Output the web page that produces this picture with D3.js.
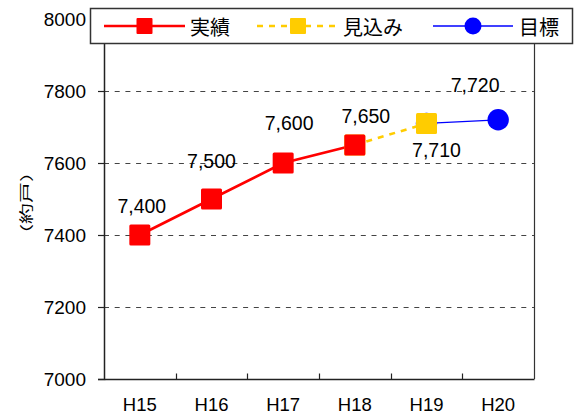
<!DOCTYPE html>
<html>
<head>
<meta charset="utf-8">
<script src="https://cdn.jsdelivr.net/npm/d3@7"></script>
<style>
  html, body { margin: 0; padding: 0; background: #fff; }
  svg { display: block; font-family: "Liberation Sans", Arial, "Noto Sans CJK JP", sans-serif; }
</style>
</head>
<body>
<div id="chart"></div>
<script>
// data
const categories = ["H15", "H16", "H17", "H18", "H19", "H20"];
const actual   = [7400, 7500, 7600, 7650, null, null];   // 実績
const forecast = [null, null, null, 7650, 7710, null];   // 見込み
const target   = [null, null, null, null, 7710, 7720];   // 目標
const pointLabels = [7400, 7500, 7600, 7650, 7710, 7720];
const yTicks = [7000, 7200, 7400, 7600, 7800, 8000];
const seriesNames = ["実績", "見込み", "目標"];

const W = 579, H = 414;
const plot = {left: 104, right: 534, top: 19, bottom: 379};

// label nudges (dx, dy from the marker centre)
const labelNudge = [[2, -22], [0, -31], [6, -33.5], [11, -22.5], [10, 34], [-23, -28]];

const svg = d3.select("#chart").append("svg")
    .attr("width", W)
    .attr("height", H);

const x = d3.scaleBand()
    .domain(categories)
    .range([plot.left, plot.right])
    .padding(0);
const cx = c => x(c) + x.bandwidth() / 2;

const y = d3.scaleLinear()
    .domain([7000, 8000])
    .range([plot.bottom, plot.top]);

// gridlines
svg.append("g")
    .selectAll("line")
    .data(yTicks.filter(v => v > 7000))
    .join("line")
    .attr("x1", plot.left).attr("x2", plot.right)
    .attr("y1", d => Math.round(y(d)) + 0.5).attr("y2", d => Math.round(y(d)) + 0.5)
    .attr("stroke", "#444")
    .attr("stroke-width", 1)
    .attr("stroke-dasharray", "5,5.7");

// plot frame (top and right side)
svg.append("line")
    .attr("x1", plot.right + 0.5).attr("x2", plot.right + 0.5)
    .attr("y1", plot.top).attr("y2", plot.bottom)
    .attr("stroke", "#333").attr("stroke-width", 1.2);
svg.append("line")
    .attr("x1", plot.left).attr("x2", plot.right)
    .attr("y1", plot.top + 0.5).attr("y2", plot.top + 0.5)
    .attr("stroke", "#333").attr("stroke-width", 1.2);

// y axis
const yAxis = svg.append("g")
    .attr("transform", `translate(${plot.left},0)`)
    .call(d3.axisLeft(y).tickValues(yTicks).tickSize(6).tickPadding(12).tickFormat(d3.format("d")));
yAxis.select(".domain").attr("stroke", "#222").attr("stroke-width", 1.5);
yAxis.selectAll(".tick line").attr("stroke", "#222").attr("stroke-width", 1.2);
yAxis.selectAll("text")
    .attr("font-size", 19)
    .attr("font-family", "Liberation Sans, Arial, sans-serif")
    .attr("fill", "#000");

// x axis: inner ticks at category boundaries
const xAxis = svg.append("g")
    .attr("transform", `translate(0,${plot.bottom})`)
    .call(d3.axisBottom(x).tickSize(0).tickPadding(19));
xAxis.select(".domain").attr("stroke", "#222").attr("stroke-width", 1.5);
xAxis.selectAll("text")
    .attr("font-size", 18.5)
    .attr("font-family", "Liberation Sans, Arial, sans-serif")
    .attr("fill", "#000");
svg.append("g")
    .selectAll("line")
    .data(categories.slice(1))
    .join("line")
    .attr("x1", d => Math.round(x(d)) + 0.5).attr("x2", d => Math.round(x(d)) + 0.5)
    .attr("y1", plot.bottom).attr("y2", plot.bottom - 5.5)
    .attr("stroke", "#222").attr("stroke-width", 1.2);

// y axis title (rotated, slightly condensed like the original)
svg.append("text")
    .attr("transform", "translate(25,203) rotate(-90) scale(1.1,0.72)")
    .attr("text-anchor", "middle")
    .attr("dominant-baseline", "central")
    .attr("font-family", "Noto Sans CJK JP, sans-serif")
    .attr("font-size", 19)
    .text("（約戸）");

// lines
const line = d3.line()
    .defined(d => d.v != null)
    .x(d => cx(d.c))
    .y(d => y(d.v));
const pts = arr => categories.map((c, i) => ({c: c, v: arr[i]}));

svg.append("path")
    .datum(pts(target))
    .attr("d", line)
    .attr("fill", "none")
    .attr("stroke", "#0000ff")
    .attr("stroke-width", 1.3);
svg.append("path")
    .datum(pts(forecast))
    .attr("d", line)
    .attr("fill", "none")
    .attr("stroke", "#ffcc00")
    .attr("stroke-width", 2.6)
    .attr("stroke-dasharray", "6,6");
svg.append("path")
    .datum(pts(actual))
    .attr("d", line)
    .attr("fill", "none")
    .attr("stroke", "#ff0000")
    .attr("stroke-width", 2.7);

// markers
const S = 21;
svg.append("g")
    .selectAll("circle")
    .data(pts(target).filter(d => d.v != null))
    .join("circle")
    .attr("cx", d => cx(d.c)).attr("cy", d => y(d.v))
    .attr("r", 10.7)
    .attr("fill", "#0000ff");
svg.append("g")
    .selectAll("rect")
    .data(pts(forecast).filter(d => d.v != null))
    .join("rect")
    .attr("x", d => cx(d.c) - S / 2).attr("y", d => y(d.v) - S / 2)
    .attr("width", S).attr("height", S)
    .attr("rx", 1.5)
    .attr("fill", "#ffcc00");
svg.append("g")
    .selectAll("rect")
    .data(pts(actual).filter(d => d.v != null))
    .join("rect")
    .attr("x", d => cx(d.c) - S / 2).attr("y", d => y(d.v) - S / 2)
    .attr("width", S).attr("height", S)
    .attr("rx", 1.5)
    .attr("fill", "#ff0000");

// data labels
svg.append("g")
    .selectAll("text")
    .data(pointLabels)
    .join("text")
    .attr("x", (d, i) => cx(categories[i]) + labelNudge[i][0])
    .attr("y", (d, i) => y(d) + labelNudge[i][1])
    .attr("text-anchor", "middle")
    .attr("font-size", 19.5)
    .attr("fill", "#000")
    .text(d => d3.format(",")(d));

// legend
const legend = svg.append("g");
legend.append("rect")
    .attr("x", 90.5).attr("y", 8.5)
    .attr("width", 482).attr("height", 35)
    .attr("fill", "#fff")
    .attr("stroke", "#333")
    .attr("stroke-width", 1.5);

const legendItems = [
  {name: seriesNames[0], x0: 104, x1: 185, color: "#ff0000", dash: null, w: 2.7, shape: "square", size: 16, tx: 190},
  {name: seriesNames[1], x0: 257, x1: 339, color: "#ffcc00", dash: "6,6", w: 2.6, shape: "square", size: 16, tx: 343},
  {name: seriesNames[2], x0: 433, x1: 513, color: "#0000ff", dash: null, w: 1.3, shape: "circle", size: 8.5, tx: 519}
];
const ly = 26;
const li = legend.selectAll("g.item")
    .data(legendItems)
    .join("g")
    .attr("class", "item");
li.append("line")
    .attr("x1", d => d.x0).attr("x2", d => d.x1)
    .attr("y1", ly).attr("y2", ly)
    .attr("stroke", d => d.color)
    .attr("stroke-width", d => d.w)
    .attr("stroke-dasharray", d => d.dash);
li.filter(d => d.shape === "square").append("rect")
    .attr("x", d => (d.x0 + d.x1) / 2 - d.size / 2)
    .attr("y", d => ly - d.size / 2)
    .attr("width", d => d.size).attr("height", d => d.size)
    .attr("rx", 1)
    .attr("fill", d => d.color);
li.filter(d => d.shape === "circle").append("circle")
    .attr("cx", d => (d.x0 + d.x1) / 2).attr("cy", ly)
    .attr("r", d => d.size)
    .attr("fill", d => d.color);
li.append("text")
    .attr("x", d => d.tx).attr("y", ly)
    .attr("dominant-baseline", "central")
    .attr("font-family", "Noto Sans CJK JP, sans-serif")
    .attr("font-size", 20)
    .attr("fill", "#000")
    .text(d => d.name);
</script>
</body>
</html>
